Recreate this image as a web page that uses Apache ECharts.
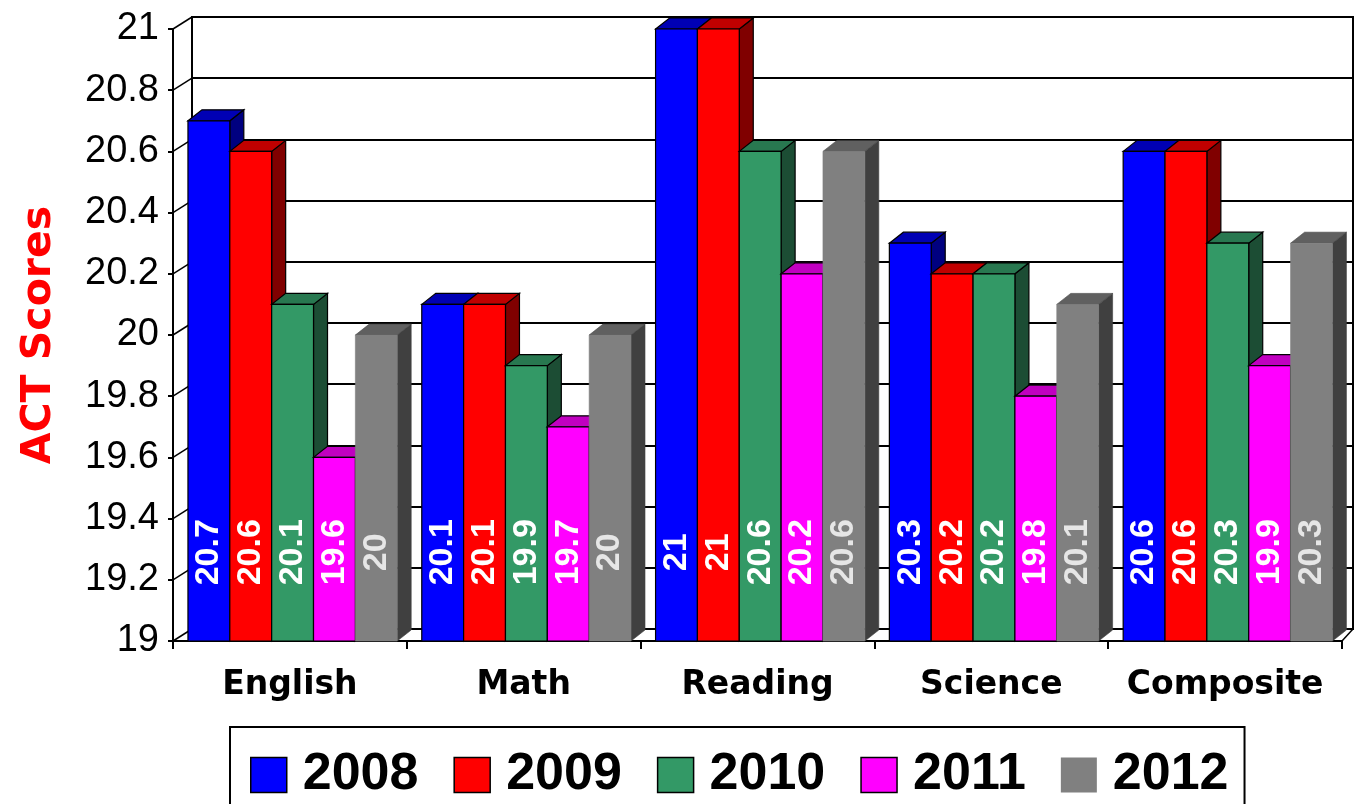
<!DOCTYPE html>
<html>
<head>
<meta charset="utf-8">
<title>ACT Scores</title>
<script src="https://cdn.jsdelivr.net/npm/echarts@6/dist/echarts.min.js"></script>
<style>
html, body { margin: 0; padding: 0; background: #fff; }
#chart { width: 1359px; height: 804px; }
</style>
</head>
<body>
<div id="chart"></div>
<script>
// data
const subjects = ['English', 'Math', 'Reading', 'Science', 'Composite'];
const years = ['2008', '2009', '2010', '2011', '2012'];
const scores2008 = [20.7, 20.1, 21, 20.3, 20.6];
const scores2009 = [20.6, 20.1, 21, 20.2, 20.6];
const scores2010 = [20.1, 19.9, 20.6, 20.2, 20.3];
const scores2011 = [19.6, 19.7, 20.2, 19.8, 19.9];
const scores2012 = [20, 20, 20.6, 20.1, 20.3];
const yTicks = [19, 19.2, 19.4, 19.6, 19.8, 20, 20.2, 20.4, 20.6, 20.8, 21];
const yMin = 19, yMax = 21, yStep = 0.2;

const allScores = [scores2008, scores2009, scores2010, scores2011, scores2012];

// face colours: front, top, side, outline, label
const palette = [
    { front: '#0000ff', top: '#0000b4', side: '#000080', edge: '#000', label: '#fff' },
    { front: '#ff0000', top: '#c00000', side: '#800000', edge: '#000', label: '#fff' },
    { front: '#339966', top: '#287850', side: '#1c4d34', edge: '#000', label: '#fff' },
    { front: '#ff00ff', top: '#c000c0', side: '#800080', edge: '#000', label: '#fff' },
    { front: '#808080', top: '#606060', side: '#404040', edge: null, label: '#e6e6e6' }
];

const ARIAL = "'Liberation Sans', Arial, sans-serif";
const WIDE = "'DejaVu Sans', Verdana, sans-serif";

const DEPTH_X = 14, DEPTH_Y = -11;   // bar depth
const LABEL_AT = 19.29;              // value where bar labels are centred

function barRenderer(k) {
    const pal = palette[k];
    return function (params, api) {
        const cat = api.value(0);
        const val = api.value(1);
        const w = api.size([1, 0])[0];
        const top = api.coord([cat, val]);
        const base = api.coord([cat, yMin]);
        const lab = api.coord([cat, LABEL_AT]);
        const bw = w * 0.179;
        const x0 = top[0] - w / 2 + w * 0.064 + k * bw;
        const x1 = x0 + bw;
        const y0 = top[1], y1 = base[1];
        const stroke = pal.edge || pal.side;
        const lw = pal.edge ? 1.2 : 0.6;
        return {
            type: 'group',
            children: [
                {
                    type: 'polygon',
                    shape: { points: [[x1, y0], [x1 + DEPTH_X, y0 + DEPTH_Y], [x1 + DEPTH_X, y1 + DEPTH_Y], [x1, y1]] },
                    style: { fill: pal.side, stroke: stroke, lineWidth: lw }
                },
                {
                    type: 'polygon',
                    shape: { points: [[x0, y0], [x0 + DEPTH_X, y0 + DEPTH_Y], [x1 + DEPTH_X, y0 + DEPTH_Y], [x1, y0]] },
                    style: { fill: pal.top, stroke: stroke, lineWidth: lw }
                },
                {
                    type: 'rect',
                    shape: { x: x0, y: y0, width: bw, height: y1 - y0 },
                    style: { fill: pal.front, stroke: pal.edge || pal.front, lineWidth: lw }
                },
                {
                    type: 'text',
                    x: (x0 + x1) / 2,
                    y: lab[1],
                    rotation: Math.PI / 2,
                    style: {
                        text: String(val),
                        fill: pal.label,
                        fontFamily: ARIAL,
                        fontWeight: 'bold',
                        fontSize: 34,
                        align: 'center',
                        verticalAlign: 'middle'
                    }
                }
            ]
        };
    };
}

function wallRenderer(params, api) {
    const cs = params.coordSys;
    const p = api.coord([0, api.value(1)]);
    const children = [{
        type: 'line',
        shape: { x1: cs.x - 19, y1: p[1] + 12, x2: cs.x, y2: p[1] },
        style: { stroke: '#000', lineWidth: 1.5 }
    }];
    if (api.value(1) === yMin) {
        children.push({
            type: 'line',
            shape: { x1: cs.x + cs.width - 11, y1: p[1] + 12, x2: cs.x + cs.width, y2: p[1] },
            style: { stroke: '#000', lineWidth: 1.5 }
        });
    }
    return { type: 'group', children: children };
}

let chart = echarts.init(document.getElementById('chart'), null, { renderer: 'canvas' });

let series = [{
    name: 'walls',
    type: 'custom',
    xAxisIndex: 1,
    yAxisIndex: 1,
    z: 1,
    silent: true,
    renderItem: wallRenderer,
    data: yTicks.map(v => [0, v])
}];
years.forEach((y, k) => {
    series.push({
        name: y,
        type: 'custom',
        xAxisIndex: 0,
        yAxisIndex: 0,
        z: 3 + k,
        clip: false,
        itemStyle: { color: palette[k].front },
        encode: { x: 0, y: 1 },
        renderItem: barRenderer(k),
        data: allScores[k].map((v, i) => [i, v])
    });
});

let option = {
    animation: false,
    backgroundColor: '#fff',
    grid: [
        { left: 173, right: 17, top: 29, bottom: 163, outerBoundsMode: 'none', containLabel: false },
        {
            left: 192, right: 6, top: 17, bottom: 175, outerBoundsMode: 'none', containLabel: false,
            show: true, backgroundColor: '#fff', borderColor: '#000', borderWidth: 2
        }
    ],
    xAxis: [
        {
            type: 'category',
            gridIndex: 0,
            data: subjects,
            axisLine: { show: true, lineStyle: { color: '#000', width: 2 } },
            axisTick: { show: true, length: 8, interval: 0, lineStyle: { color: '#000', width: 2 } },
            axisLabel: {
                interval: 0,
                margin: 28,
                color: '#000',
                fontFamily: WIDE,
                fontWeight: 'bold',
                fontSize: 33
            },
            splitLine: { show: false }
        },
        {
            type: 'category',
            gridIndex: 1,
            data: subjects,
            axisLine: { show: false },
            axisTick: { show: false },
            axisLabel: { show: false },
            splitLine: { show: false }
        }
    ],
    yAxis: [
        {
            type: 'value',
            gridIndex: 0,
            min: yMin,
            max: yMax,
            interval: yStep,
            name: 'ACT Scores',
            nameLocation: 'middle',
            nameRotate: 90,
            nameGap: 113,
            nameTextStyle: {
                color: '#ff0000',
                fontFamily: WIDE,
                fontWeight: 'bold',
                fontSize: 41
            },
            axisLine: { show: true, lineStyle: { color: '#000', width: 2 } },
            axisTick: { show: true, length: 5, lineStyle: { color: '#000', width: 2 } },
            axisLabel: {
                margin: 14,
                color: '#000',
                fontFamily: ARIAL,
                fontSize: 38,
                formatter: v => String(Number(v.toFixed(1)))
            },
            splitLine: { show: false }
        },
        {
            type: 'value',
            gridIndex: 1,
            min: yMin,
            max: yMax,
            interval: yStep,
            axisLine: { show: false },
            axisTick: { show: false },
            axisLabel: { show: false },
            splitLine: { show: true, lineStyle: { color: '#000', width: 2 } }
        }
    ],
    legend: {
        left: 230,
        top: 727,
        orient: 'horizontal',
        padding: [22, 16, 60, 20],
        itemWidth: 36,
        itemHeight: 35,
        itemGap: 35,
        borderColor: '#000',
        borderWidth: 2,
        icon: 'rect',
        selectedMode: false,
        textStyle: {
            color: '#000',
            fontFamily: ARIAL,
            fontWeight: 'bold',
            fontSize: 52,
            lineHeight: 40,
            padding: [0, 0, 0, 11]
        },
        data: years.map((y, k) => ({
            name: y,
            itemStyle: {
                color: palette[k].front,
                borderColor: palette[k].edge || palette[k].front,
                borderWidth: palette[k].edge ? 1.5 : 0
            }
        }))
    },
    tooltip: { show: false },
    series: series
};

chart.setOption(option, true);
window.addEventListener('resize', function () { chart.resize(); });
</script>
</body>
</html>
